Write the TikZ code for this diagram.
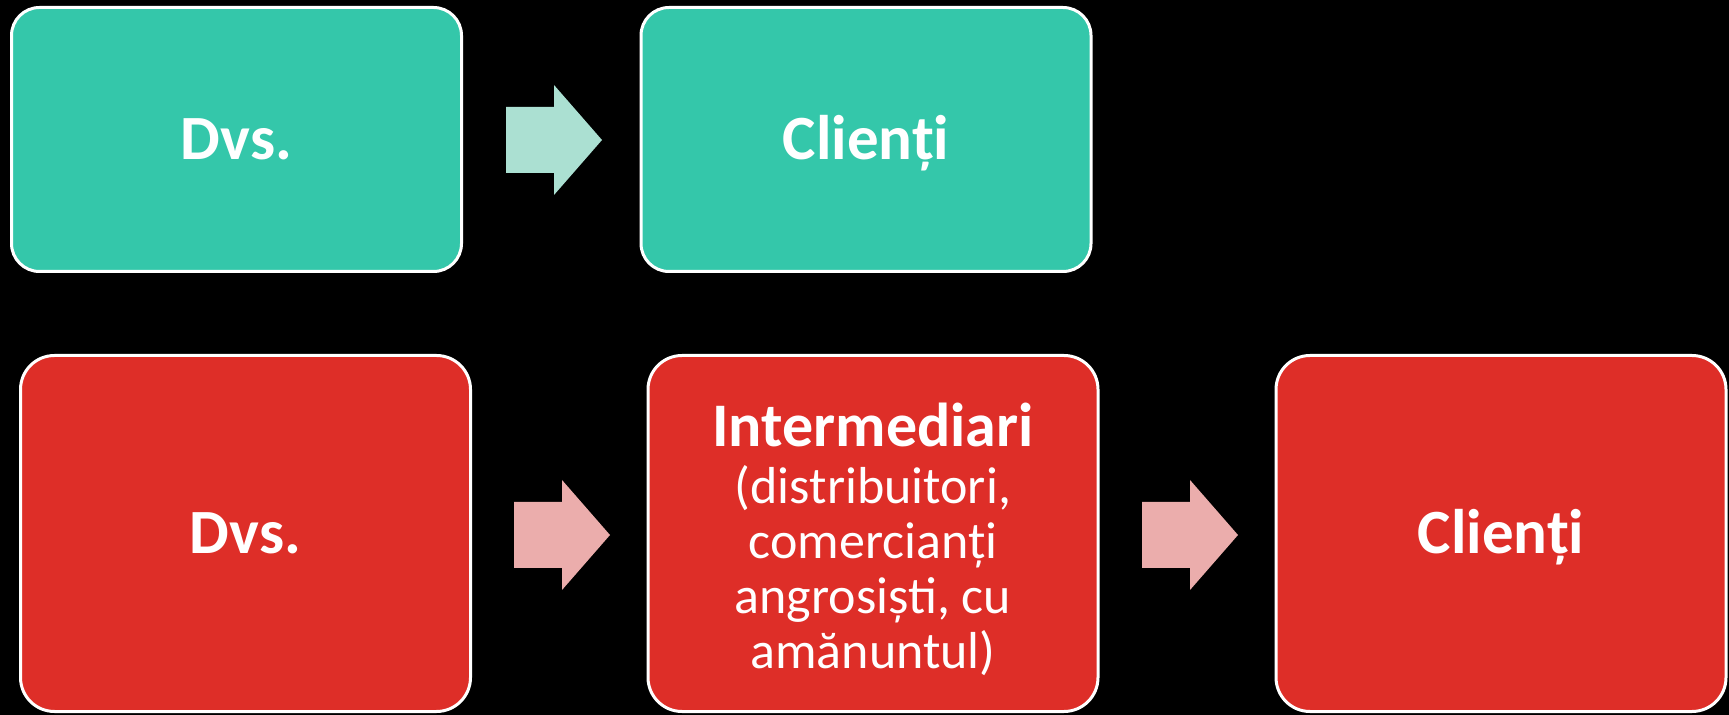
\documentclass[tikz,border=0pt]{standalone}
\usepackage{fontspec}
\setmainfont{Carlito}
\definecolor{teal1}{RGB}{52,199,170}
\definecolor{teal2}{RGB}{171,224,210}
\definecolor{red1}{RGB}{222,46,40}
\definecolor{red2}{RGB}{235,173,172}
\tikzset{
  box/.style={draw=white, line width=1.5pt, minimum width=225pt, inner sep=0pt, text=white, align=center},
  topbox/.style={box, fill=teal1, minimum height=132pt, rounded corners=14pt},
  botbox/.style={box, fill=red1, minimum height=178pt, rounded corners=17pt},
  bigtxt/.style={font=\fontsize{31.5}{34}\selectfont\bfseries, text height=20pt, text depth=0pt},
  blockarrow/.pic={\fill (0,-33)--(48,-33)--(48,-55)--(96,0)--(48,55)--(48,33)--(0,33)--cycle;}
}
\begin{document}
\begin{tikzpicture}[x=0.5pt,y=-0.5pt]
\fill[black] (0,0) rectangle (1729,715);
\useasboundingbox (0,0) rectangle (1729,715);
\node[topbox,bigtxt] (b1) at (236.5,139.5) {Dvs.};
\node[topbox,bigtxt] (b2) at (866,139.5) {Clienți};
\node[botbox,bigtxt] (b3) at (245.5,533.5) {Dvs.};
\node[botbox] (b4) at (873,533.5) {};
\node[botbox,bigtxt] (b5) at (1501,533.5) {Clienți};
\node[text=white, align=center, font=\fontsize{26}{27.5}\selectfont, inner sep=0pt] (b4t) at (873,539)
  {{\fontsize{31}{31}\selectfont\bfseries Intermediari}\\[1pt] (distribuitori,\\ comercianți\\ angrosiști, cu\\ amănuntul)};
\pic[fill=teal2] at (506,140) {blockarrow};
\pic[fill=red2] at (514,535) {blockarrow};
\pic[fill=red2] at (1142,535) {blockarrow};
\end{tikzpicture}
\end{document}
